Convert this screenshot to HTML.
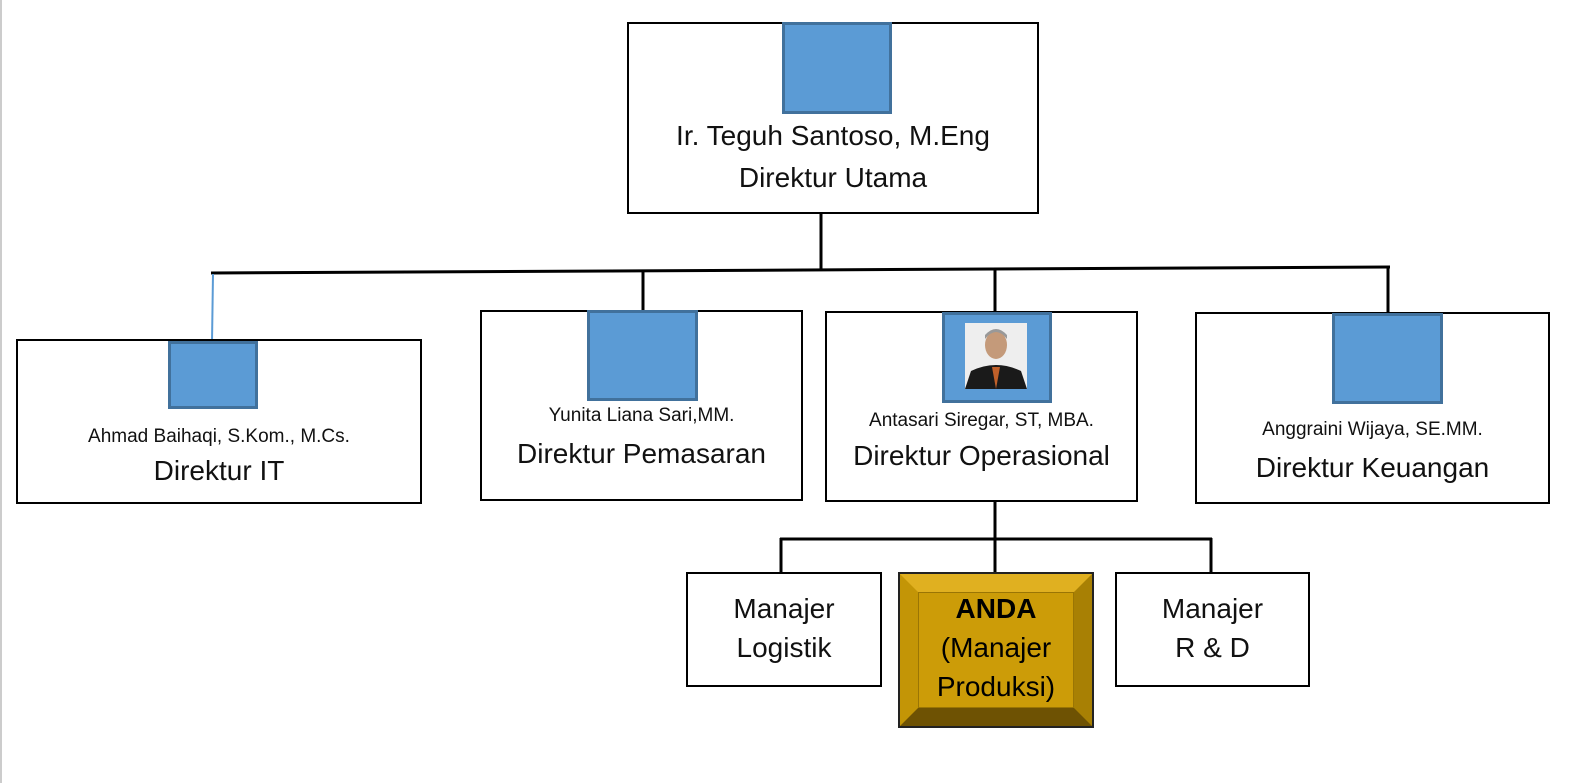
<!DOCTYPE html>
<html><head><style>
body{margin:0;width:1581px;height:783px;background:#fff;position:relative;overflow:hidden;font-family:"Liberation Sans",sans-serif}
.b{position:absolute;border:2px solid #000;box-sizing:border-box;background:#fff}
.sq{position:absolute;background:#5b9bd5;border:3px solid #41719c;box-sizing:border-box}
.t{position:absolute;text-align:center;white-space:nowrap;color:#111}
</style></head><body>
<div style="position:absolute;left:0;top:0;width:2px;height:783px;background:#ccc"></div>
<svg width="1581" height="783" style="position:absolute;left:0;top:0">
<g stroke="#000" stroke-width="3" fill="none">
<line x1="821" y1="213" x2="821" y2="271"/>
<line x1="211" y1="273" x2="1390" y2="267"/>
<line x1="643" y1="270" x2="643" y2="311"/>
<line x1="995" y1="269" x2="995" y2="312"/>
<line x1="1388" y1="267" x2="1388" y2="313"/>
<line x1="995" y1="501" x2="995" y2="540"/>
<line x1="780" y1="539" x2="1212" y2="539"/>
<line x1="781" y1="538" x2="781" y2="573"/>
<line x1="995" y1="538" x2="995" y2="573"/>
<line x1="1211" y1="538" x2="1211" y2="573"/>
</g>
<line x1="213" y1="274" x2="212" y2="342" stroke="#5b9bd5" stroke-width="2"/>
</svg>
<div class="b" style="left:627px;top:22px;width:412px;height:192px"></div>
<div class="sq" style="left:782px;top:22px;width:110px;height:92px"></div>
<div class="t" style="left:627px;width:412px;top:120px;font-size:28px">Ir. Teguh Santoso, M.Eng</div>
<div class="t" style="left:627px;width:412px;top:162px;font-size:28px">Direktur Utama</div>

<div class="b" style="left:16px;top:339px;width:406px;height:165px"></div>
<div class="sq" style="left:168px;top:341px;width:90px;height:68px"></div>
<div class="t" style="left:16px;width:406px;top:426px;font-size:19px">Ahmad Baihaqi, S.Kom., M.Cs.</div>
<div class="t" style="left:16px;width:406px;top:455px;font-size:28px">Direktur IT</div>

<div class="b" style="left:480px;top:310px;width:323px;height:191px"></div>
<div class="sq" style="left:587px;top:310px;width:111px;height:91px"></div>
<div class="t" style="left:480px;width:323px;top:405px;font-size:19px">Yunita Liana Sari,MM.</div>
<div class="t" style="left:480px;width:323px;top:438px;font-size:28px">Direktur Pemasaran</div>

<div class="b" style="left:825px;top:311px;width:313px;height:191px"></div>
<div class="sq" style="left:942px;top:312px;width:110px;height:91px"></div>
<svg style="position:absolute;left:965px;top:323px" width="62" height="66"><rect width="62" height="66" fill="#eee"/><path d="M0 66 L6 48 Q31 36 56 48 L62 66Z" fill="#1a1a1a"/><path d="M27 44 L31 66 L35 44Z" fill="#c0602a"/><ellipse cx="31" cy="22" rx="11" ry="14" fill="#c49a7a"/><path d="M20 16 Q31 2 42 16 L42 12 Q31 0 20 12Z" fill="#999"/></svg>
<div class="t" style="left:825px;width:313px;top:410px;font-size:19px">Antasari Siregar, ST, MBA.</div>
<div class="t" style="left:825px;width:313px;top:440px;font-size:28px">Direktur Operasional</div>

<div class="b" style="left:1195px;top:312px;width:355px;height:192px"></div>
<div class="sq" style="left:1332px;top:313px;width:111px;height:91px"></div>
<div class="t" style="left:1195px;width:355px;top:419px;font-size:19px">Anggraini Wijaya, SE.MM.</div>
<div class="t" style="left:1195px;width:355px;top:452px;font-size:28px">Direktur Keuangan</div>

<div class="b" style="left:686px;top:572px;width:196px;height:115px"></div>
<div class="t" style="left:686px;width:196px;top:589px;font-size:28px;line-height:39px">Manajer<br>Logistik</div>
<div class="b" style="left:1115px;top:572px;width:195px;height:115px"></div>
<div class="t" style="left:1115px;width:195px;top:589px;font-size:28px;line-height:39px">Manajer<br>R &amp; D</div>

<div style="position:absolute;left:898px;top:572px;width:196px;height:156px;box-sizing:border-box;border:2px solid #222;background:#222"></div>
<div style="position:absolute;left:900px;top:574px;width:192px;height:152px;box-sizing:border-box;border-style:solid;border-width:18px 18px 18px 18px;border-color:#e0b020 #a88004 #6e5203 #c39506;background:#cc9c08"></div>
<div style="position:absolute;left:918px;top:592px;width:156px;height:116px;box-sizing:border-box;border:1px solid #9a7504"></div>
<div class="t" style="left:898px;width:196px;top:589px;font-size:28px;line-height:39px;color:#000"><b>ANDA</b><br>(Manajer<br>Produksi)</div>
</body></html>
